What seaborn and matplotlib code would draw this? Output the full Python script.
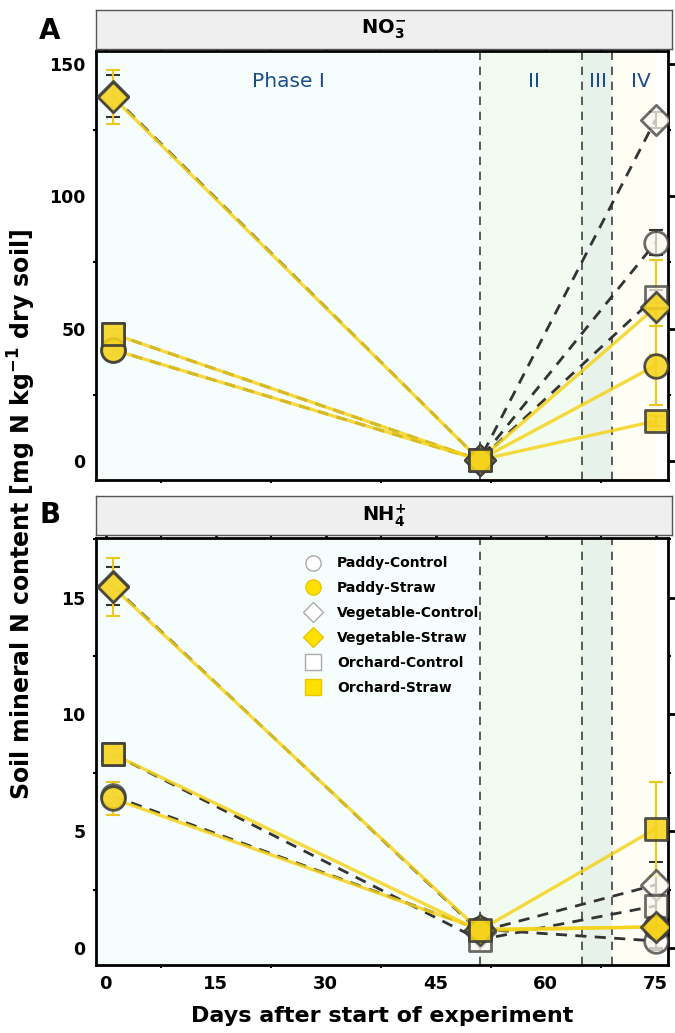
import numpy as np
import pandas as pd
import matplotlib
matplotlib.use("Agg")
import matplotlib.pyplot as plt
import seaborn as sns
from matplotlib.lines import Line2D
from matplotlib.ticker import MultipleLocator

# ---------------- data ----------------
days = [1, 51, 75]
treatments = ["Paddy-Control", "Paddy-Straw", "Vegetable-Control",
              "Vegetable-Straw", "Orchard-Control", "Orchard-Straw"]

# NO3- (mg N kg-1 dry soil)
no3_paddy_control = [42.0, 0.3, 82.5]
no3_paddy_straw = [42.0, 0.3, 36.0]
no3_veg_control = [138.0, 0.3, 129.0]
no3_veg_straw = [137.5, 0.3, 58.0]
no3_orch_control = [48.0, 0.3, 62.0]
no3_orch_straw = [48.0, 0.3, 15.0]
no3_paddy_control_sd = [2.0, 0.2, 4.7]
no3_paddy_straw_sd = [2.0, 0.2, 15.0]
no3_veg_control_sd = [8.0, 0.2, 3.0]
no3_veg_straw_sd = [10.3, 0.2, 18.0]
no3_orch_control_sd = [2.0, 0.2, 2.5]
no3_orch_straw_sd = [2.0, 0.2, 2.0]

# NH4+ (mg N kg-1 dry soil)
nh4_paddy_control = [6.5, 0.8, 0.3]
nh4_paddy_straw = [6.4, 0.8, 0.9]
nh4_veg_control = [15.5, 0.7, 2.7]
nh4_veg_straw = [15.45, 0.75, 0.9]
nh4_orch_control = [8.3, 0.35, 1.8]
nh4_orch_straw = [8.3, 0.75, 5.1]
nh4_paddy_control_sd = [0.3, 0.1, 0.3]
nh4_paddy_straw_sd = [0.7, 0.1, 0.1]
nh4_veg_control_sd = [0.8, 0.1, 0.4]
nh4_veg_straw_sd = [1.25, 0.1, 0.1]
nh4_orch_control_sd = [0.3, 0.1, 1.9]
nh4_orch_straw_sd = [0.3, 0.1, 2.0]

phase_bounds = [51, 65, 69]
phase_labels = ["Phase I", "II", "III", "IV"]
x_ticks = [0, 15, 30, 45, 60, 75]


def build(vals, sds):
    rows = []
    for t, v, s in zip(treatments, vals, sds):
        for d, vi, si in zip(days, v, s):
            rows.append({"treatment": t, "day": d, "value": vi, "sd": si})
    return pd.DataFrame(rows)


df_no3 = build([no3_paddy_control, no3_paddy_straw, no3_veg_control,
                no3_veg_straw, no3_orch_control, no3_orch_straw],
               [no3_paddy_control_sd, no3_paddy_straw_sd, no3_veg_control_sd,
                no3_veg_straw_sd, no3_orch_control_sd, no3_orch_straw_sd])
df_nh4 = build([nh4_paddy_control, nh4_paddy_straw, nh4_veg_control,
                nh4_veg_straw, nh4_orch_control, nh4_orch_straw],
               [nh4_paddy_control_sd, nh4_paddy_straw_sd, nh4_veg_control_sd,
                nh4_veg_straw_sd, nh4_orch_control_sd, nh4_orch_straw_sd])

# ---------------- style ----------------
sns.set_theme(style="white")
plt.rcParams["font.family"] = ["DejaVu Sans"]
plt.rcParams["font.weight"] = "bold"
plt.rcParams["text.color"] = "black"
plt.rcParams["mathtext.fontset"] = "dejavusans"
plt.rcParams["mathtext.default"] = "bf"

GOLD = "#F5D31C"
EDGE = "#3A3A3A"
CTRL_FILL = "#FBF8EF"
markers = {"Paddy": "o", "Vegetable": "D", "Orchard": "s"}
sizes = {"Paddy": 290, "Vegetable": 240, "Orchard": 260}
phase_colors = ["#F5FDFD", "#F1FBF0", "#E7F2EA", "#FEFEF5"]

fig = plt.figure(figsize=(6.75, 10.33), dpi=100)
W, H = 675.0, 1033.0
L, R = 96 / W, 668 / W
axA = fig.add_axes([L, 1 - 480 / H, R - L, (480 - 51) / H])
axB = fig.add_axes([L, 1 - 965 / H, R - L, (965 - 538) / H])
stripA = fig.add_axes([L, 1 - 49 / H, R - L + 4 / W, 39 / H])
stripB = fig.add_axes([L, 1 - 535 / H, R - L + 4 / W, 39 / H])

XLIM = (-1.3, 76.7)


def draw_panel(ax, df, ylim, major, show_phase_text):
    ax.set_xlim(*XLIM)
    ax.set_ylim(*ylim)
    edges = [XLIM[0]] + phase_bounds + [75.0]
    for i in range(4):
        ax.axvspan(edges[i], edges[i + 1], color=phase_colors[i], lw=0, zorder=0)
    for xb in phase_bounds:
        ax.axvline(xb, color="#3F3F3F", lw=1.2, ls=(0, (5, 4)), zorder=1)

    # lines: controls dashed, straw solid on top
    for t in treatments:
        sub = df[df.treatment == t]
        if t.endswith("Control"):
            sns.lineplot(data=sub, x="day", y="value", ax=ax, color="#333333",
                         lw=2.0, linestyle=(0, (4, 3)), errorbar=None,
                         zorder=2, legend=False)
    for t in treatments:
        sub = df[df.treatment == t]
        if t.endswith("Straw"):
            sns.lineplot(data=sub, x="day", y="value", ax=ax, color=GOLD,
                         lw=2.4, alpha=0.85, errorbar=None, zorder=3,
                         legend=False)

    # error bars
    for t in treatments:
        sub = df[df.treatment == t]
        col = "#333333" if t.endswith("Control") else "#EDC81A"
        ax.errorbar(sub.day, sub.value, yerr=sub.sd, fmt="none", ecolor=col,
                    elinewidth=1.5, capsize=5, capthick=1.5, zorder=4)

    # markers
    for t in treatments:
        soil = t.split("-")[0]
        sub = df[df.treatment == t]
        ctrl = t.endswith("Control")
        sns.scatterplot(data=sub, x="day", y="value", ax=ax,
                        marker=markers[soil], s=sizes[soil],
                        color=CTRL_FILL if ctrl else GOLD,
                        edgecolor=EDGE, linewidth=2.0,
                        alpha=0.75 if ctrl else 0.88,
                        zorder=5 if ctrl else 6, legend=False)

    ax.set_xlabel("")
    ax.set_ylabel("")
    ax.set_xticks(x_ticks)
    ax.xaxis.set_minor_locator(MultipleLocator(7.5))
    ax.yaxis.set_major_locator(MultipleLocator(major))
    ax.yaxis.set_minor_locator(MultipleLocator(major / 2))
    for sp in ax.spines.values():
        sp.set_visible(True)
        sp.set_color("black")
        sp.set_linewidth(2.0)
    ax.tick_params(which="major", direction="out", length=5, width=2,
                   color="black", labelcolor="black", labelsize=12.5,
                   top=True, right=True, labeltop=False, labelright=False,
                   pad=2.5)
    ax.tick_params(which="minor", direction="out", length=2.5, width=1.5,
                   color="black", top=True, right=True, left=True, bottom=True)
    for lab in ax.get_yticklabels() + ax.get_xticklabels():
        lab.set_fontweight("bold")

    if show_phase_text:
        ytxt = ylim[1] - 0.07 * (ylim[1] - ylim[0])
        xs = [25, 58.4, 67.1, 73]
        for xt, lab in zip(xs, phase_labels):
            ax.text(xt, ytxt, lab, color="#1B4C8C", fontsize=14.5,
                    fontweight="normal", ha="center", va="center", zorder=7)


draw_panel(axA, df_no3, (-7.3, 155.0), 50, True)
draw_panel(axB, df_nh4, (-0.73, 17.55), 5, False)
axA.tick_params(labelbottom=False)
axB.tick_params(axis="x", labelsize=13)

for st, txt in [(stripA, r"NO$_3^{-}$"), (stripB, r"NH$_4^{+}$")]:
    st.set_xticks([])
    st.set_yticks([])
    st.set_facecolor("#EFEFEF")
    for sp in st.spines.values():
        sp.set_color("#555555")
        sp.set_linewidth(1.0)
    st.text(0.5, 0.5, txt, ha="center", va="center", fontsize=14,
            fontweight="bold", transform=st.transAxes)

# legend
handles = []
for t in treatments:
    soil = t.split("-")[0]
    ctrl = t.endswith("Control")
    ms = 11 if soil != "Vegetable" else 10
    handles.append(Line2D([], [], ls="", marker=markers[soil], markersize=ms,
                          markerfacecolor="white" if ctrl else "#FFE000",
                          markeredgecolor="#AAAAAA" if ctrl else "#E8C800",
                          markeredgewidth=1.0, label=t))
leg = axB.legend(handles=handles, loc="upper left",
                 bbox_to_anchor=(0.345, 0.97), frameon=False,
                 prop={"weight": "bold", "size": 10}, labelspacing=0.78,
                 handletextpad=0.75, borderaxespad=0.0)
for txt in leg.get_texts():
    txt.set_color("black")
leg.set_zorder(10)

fig.text(50 / W, 1 - 31 / H, "A", fontsize=20, fontweight="bold",
         ha="center", va="center")
fig.text(50 / W, 1 - 515 / H, "B", fontsize=20, fontweight="bold",
         ha="center", va="center")
fig.text(22 / W, 1 - 515 / H, "Soil mineral N content [mg N kg$^{-1}$ dry soil]",
         rotation=90, fontsize=17, fontweight="bold", ha="center", va="center")
fig.text(382 / W, 1 - 1016 / H, "Days after start of experiment",
         fontsize=16, fontweight="bold", ha="center", va="center")

fig.savefig("out.png", dpi=100)
